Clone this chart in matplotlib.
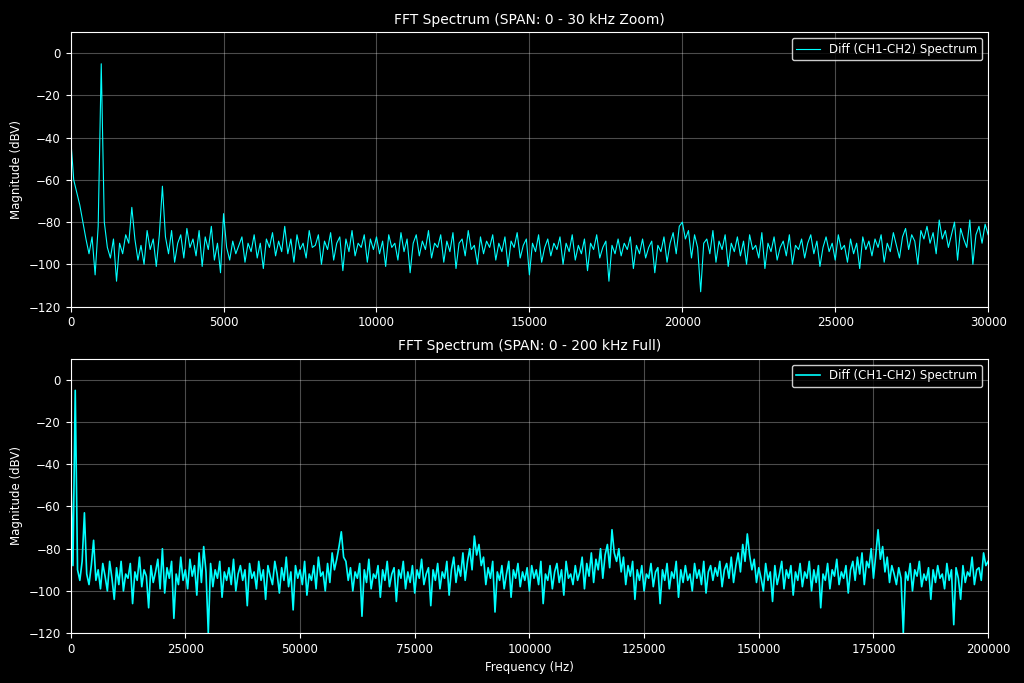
import numpy as np
import matplotlib

matplotlib.use("Agg")
import matplotlib.pyplot as plt

# zoomed spectrum, one value every 100 Hz from 0 to 30 kHz
zoom_step_hz = 100
zoom_db = [
    -40, -60, -66, -72, -80, -88, -95, -87, -105, -82, -5, -80, -92, -97, -88, -108, -90, -95, -86, -90,
    -73, -88, -98, -91, -100, -84, -93, -88, -101, -86, -63, -87, -95, -84, -99, -90, -86, -97, -83, -92,
    -88, -96, -84, -101, -87, -93, -82, -98, -90, -104, -76, -92, -98, -89, -95, -91, -87, -99, -90, -94,
    -86, -97, -90, -102, -88, -92, -85, -96, -89, -94, -82, -95, -88, -99, -86, -93, -90, -97, -84, -92,
    -91, -86, -100, -89, -93, -85, -98, -90, -87, -103, -88, -94, -84, -96, -90, -92, -86, -99, -88, -93,
    -87, -95, -89, -101, -86, -92, -90, -98, -85, -94, -88, -104, -90, -86, -96, -89, -93, -84, -97, -90,
    -92, -86, -99, -89, -94, -85, -102, -90, -88, -96, -84, -93, -91, -100, -87, -95, -89, -92, -86, -98,
    -90, -94, -87, -101, -89, -92, -85, -97, -91, -88, -105, -90, -94, -86, -99, -92, -88, -96, -90, -93,
    -87, -100, -90, -94, -86, -98, -91, -95, -88, -103, -90, -93, -86, -97, -92, -89, -108, -91, -95, -88,
    -96, -90, -93, -87, -102, -91, -95, -88, -97, -92, -89, -104, -91, -94, -87, -99, -90, -85, -95, -82,
    -80, -88, -84, -97, -86, -92, -113, -90, -88, -95, -84, -99, -89, -93, -86, -101, -90, -94, -87, -96,
    -89, -100, -86, -93, -91, -97, -85, -102, -90, -94, -87, -98, -92, -89, -96, -86, -100, -91, -93, -88,
    -97, -90, -86, -95, -89, -101, -92, -87, -94, -90, -98, -86, -93, -91, -99, -88, -95, -90, -102, -87,
    -93, -89, -96, -88, -92, -86, -99, -90, -94, -85, -91, -97, -87, -83, -93, -86, -89, -100, -84, -88,
    -82, -90, -85, -95, -79, -88, -84, -92, -86, -80, -98, -83, -88, -92, -79, -100, -86, -82, -90, -81,
    -86,
]

# full spectrum, one value every 500 Hz from 0 to 200 kHz
full_step_hz = 500
full_db = [
    -40, -88, -5, -90, -95, -86, -63, -92, -97, -88, -76, -95, -90, -99, -87, -93, -100, -86, -94, -104,
    -89, -97, -86, -100, -92, -94, -87, -106, -91, -95, -84, -98, -90, -93, -108, -88, -96, -91, -85, -99,
    -80, -101, -89, -94, -86, -113, -92, -97, -84, -95, -90, -99, -85, -93, -88, -102, -82, -96, -79, -91,
    -120, -87, -98, -90, -94, -86, -103, -91, -95, -89, -97, -85, -100, -92, -88, -95, -90, -107, -87, -94,
    -91, -99, -86, -95, -90, -104, -88, -93, -97, -86, -92, -101, -89, -95, -84, -98, -91, -109, -88, -94,
    -90, -97, -86, -102, -92, -95, -88, -99, -84, -93, -91, -100, -87, -96, -82, -90, -85, -79, -72, -84,
    -86, -95, -89, -100, -91, -94, -87, -112, -90, -96, -85, -99, -92, -94, -88, -103, -90, -95, -86, -98,
    -92, -89, -105, -90, -94, -86, -99, -91, -96, -88, -101, -90, -94, -85, -97, -92, -89, -107, -90, -95,
    -87, -99, -91, -94, -86, -102, -90, -84, -96, -88, -93, -82, -95, -86, -80, -90, -74, -83, -78, -88,
    -84, -97, -89, -94, -86, -110, -91, -95, -88, -99, -92, -86, -103, -90, -94, -87, -98, -91, -95, -89,
    -100, -88, -94, -90, -97, -86, -106, -92, -95, -88, -99, -91, -87, -96, -90, -102, -86, -94, -92, -97,
    -88, -95, -91, -84, -99, -87, -93, -82, -96, -85, -90, -80, -94, -83, -78, -89, -71, -82, -86, -80,
    -91, -84, -97, -88, -93, -86, -104, -90, -95, -88, -100, -92, -94, -87, -98, -91, -89, -106, -90, -95,
    -87, -99, -91, -94, -86, -103, -90, -96, -88, -95, -92, -100, -87, -94, -90, -97, -86, -101, -91, -88,
    -95, -89, -93, -86, -98, -90, -87, -94, -84, -96, -88, -82, -91, -78, -86, -73, -83, -90, -85, -96,
    -89, -94, -100, -87, -95, -91, -105, -88, -97, -92, -86, -99, -90, -94, -88, -102, -91, -95, -87, -98,
    -91, -94, -86, -100, -90, -96, -88, -108, -92, -95, -87, -99, -90, -93, -85, -97, -91, -94, -88, -101,
    -90, -86, -95, -84, -92, -82, -97, -86, -89, -80, -94, -83, -71, -85, -79, -91, -84, -96, -88, -92,
    -97, -89, -94, -120, -91, -95, -87, -100, -90, -93, -86, -98, -92, -95, -89, -104, -90, -96, -88, -94,
    -92, -99, -87, -95, -90, -116, -89, -94, -104, -88, -96, -91, -93, -84, -97, -90, -89, -95, -82, -88,
    -86,
]

label = "Diff (CH1-CH2) Spectrum"

plt.style.use("dark_background")
plt.rcParams["font.size"] = 8.5
fig, (ax1, ax2) = plt.subplots(2, 1, figsize=(10.24, 6.83), dpi=100)
fig.subplots_adjust(left=0.069, right=0.965, top=0.953, bottom=0.073, hspace=0.19)

zoom_f = np.arange(len(zoom_db)) * zoom_step_hz
ax1.plot(zoom_f, zoom_db, color="cyan", linewidth=0.8, label=label)
ax1.set_xlim(0, 30000)
ax1.set_ylim(-120, 10)
ax1.set_title("FFT Spectrum (SPAN: 0 - 30 kHz Zoom)", fontsize=10)
ax1.set_ylabel("Magnitude (dBV)")

full_f = np.arange(len(full_db)) * full_step_hz
ax2.plot(full_f, full_db, color="cyan", linewidth=1.2, label=label)
ax2.set_xlim(0, 200000)
ax2.set_ylim(-120, 10)
ax2.set_title("FFT Spectrum (SPAN: 0 - 200 kHz Full)", fontsize=10)
ax2.set_ylabel("Magnitude (dBV)")
ax2.set_xlabel("Frequency (Hz)")

for ax in (ax1, ax2):
    ax.grid(True, color="white", alpha=0.3)
    ax.legend(loc="upper right", facecolor="black", edgecolor="white")

fig.savefig("out.png", dpi=100)
